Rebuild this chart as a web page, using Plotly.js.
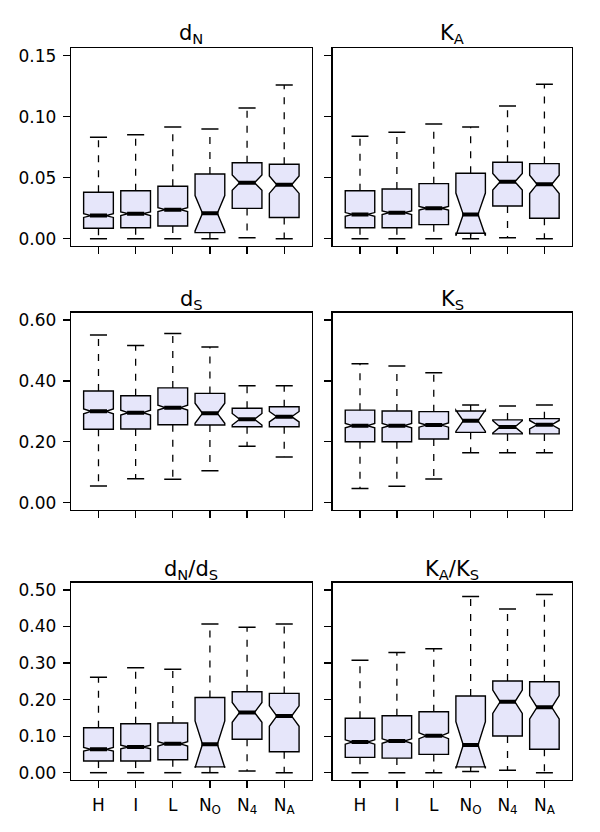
<!DOCTYPE html>
<html><head><meta charset="utf-8">
<script src="https://cdn.plot.ly/plotly-3.0.1.min.js"></script>
<style>html,body{margin:0;padding:0;background:#fff}#chart{width:600px;height:832px}</style>
</head><body><div id="chart"></div>
<script>
const categories = ['H','I','L','N<sub>O</sub>','N<sub>4</sub>','N<sub>A</sub>'];
const positions = [1,2,3,4,5,6];

// d_N
const dN_lower = [0, 0, 0, 0, 0.0008, 0];
const dN_q1    = [0.0085, 0.009, 0.0104, 0.005, 0.0248, 0.0174];
const dN_med   = [0.0189, 0.0205, 0.0238, 0.0208, 0.0459, 0.0442];
const dN_q3    = [0.038, 0.0393, 0.0429, 0.053, 0.0622, 0.061];
const dN_upper = [0.0831, 0.0852, 0.0915, 0.0899, 0.107, 0.126];
const dN_notch = [0.0015, 0.0015, 0.0015, 0.0145, 0.0063, 0.0071];
// K_A
const KA_lower = [0, 0, 0, 0, 0.0008, 0];
const KA_q1    = [0.009, 0.009, 0.0115, 0.0045, 0.0268, 0.0167];
const KA_med   = [0.0199, 0.0213, 0.0249, 0.0199, 0.0467, 0.0445];
const KA_q3    = [0.0393, 0.0407, 0.0451, 0.0536, 0.0626, 0.0615];
const KA_upper = [0.0839, 0.0872, 0.094, 0.0915, 0.1087, 0.1265];
const KA_notch = [0.0015, 0.0015, 0.0015, 0.0175, 0.0068, 0.0075];
// d_S
const dS_lower = [0.0547, 0.0788, 0.0766, 0.105, 0.185, 0.150];
const dS_q1    = [0.241, 0.242, 0.256, 0.255, 0.2496, 0.2496];
const dS_med   = [0.300, 0.2956, 0.312, 0.2936, 0.274, 0.2825];
const dS_q3    = [0.367, 0.351, 0.377, 0.359, 0.31, 0.315];
const dS_upper = [0.551, 0.516, 0.556, 0.511, 0.384, 0.384];
const dS_notch = [0.008, 0.008, 0.008, 0.033, 0.019, 0.017];
// K_S
const KS_lower = [0.047, 0.054, 0.078, 0.164, 0.164, 0.164];
const KS_q1    = [0.200, 0.200, 0.209, 0.231, 0.226, 0.226];
const KS_med   = [0.253, 0.253, 0.255, 0.269, 0.249, 0.256];
const KS_q3    = [0.304, 0.301, 0.299, 0.301, 0.272, 0.276];
const KS_upper = [0.4566, 0.449, 0.427, 0.321, 0.3175, 0.321];
const KS_notch = [0.007, 0.007, 0.007, 0.035, 0.02, 0.014];
// d_N/d_S
const dNdS_lower = [0, 0, 0, 0, 0.0046, 0];
const dNdS_q1    = [0.0319, 0.0319, 0.0356, 0.016, 0.0914, 0.0575];
const dNdS_med   = [0.0639, 0.0703, 0.079, 0.0777, 0.165, 0.155];
const dNdS_q3    = [0.123, 0.134, 0.136, 0.206, 0.2217, 0.217];
const dNdS_upper = [0.261, 0.287, 0.283, 0.407, 0.398, 0.407];
const dNdS_notch = [0.005, 0.005, 0.006, 0.064, 0.027, 0.028];
// K_A/K_S
const KAKS_lower = [0, 0, 0, 0.003, 0.0064, 0];
const KAKS_q1    = [0.042, 0.040, 0.050, 0.016, 0.1004, 0.064];
const KAKS_med   = [0.084, 0.0867, 0.101, 0.0758, 0.194, 0.179];
const KAKS_q3    = [0.149, 0.156, 0.167, 0.21, 0.251, 0.249];
const KAKS_upper = [0.308, 0.329, 0.339, 0.482, 0.448, 0.488];
const KAKS_notch = [0.006, 0.006, 0.008, 0.064, 0.032, 0.032];

const ticks1 = [0, 0.05, 0.10, 0.15];  const ticks1Text = ['0.00','0.05','0.10','0.15'];
const ticks2 = [0, 0.2, 0.4, 0.6];     const ticks2Text = ['0.00','0.20','0.40','0.60'];
const ticks3 = [0, 0.1, 0.2, 0.3, 0.4, 0.5]; const ticks3Text = ['0.00','0.10','0.20','0.30','0.40','0.50'];

const panels = [
  {title:'d<sub>N</sub>', lower:dN_lower, q1:dN_q1, med:dN_med, q3:dN_q3, upper:dN_upper, notch:dN_notch, row:0, col:0, range:[-0.006,0.156], tv:ticks1, tt:ticks1Text},
  {title:'K<sub>A</sub>', lower:KA_lower, q1:KA_q1, med:KA_med, q3:KA_q3, upper:KA_upper, notch:KA_notch, row:0, col:1, range:[-0.006,0.156], tv:ticks1, tt:ticks1Text},
  {title:'d<sub>S</sub>', lower:dS_lower, q1:dS_q1, med:dS_med, q3:dS_q3, upper:dS_upper, notch:dS_notch, row:1, col:0, range:[-0.024,0.624], tv:ticks2, tt:ticks2Text},
  {title:'K<sub>S</sub>', lower:KS_lower, q1:KS_q1, med:KS_med, q3:KS_q3, upper:KS_upper, notch:KS_notch, row:1, col:1, range:[-0.024,0.624], tv:ticks2, tt:ticks2Text},
  {title:'d<sub>N</sub>/d<sub>S</sub>', lower:dNdS_lower, q1:dNdS_q1, med:dNdS_med, q3:dNdS_q3, upper:dNdS_upper, notch:dNdS_notch, row:2, col:0, range:[-0.02,0.52], tv:ticks3, tt:ticks3Text},
  {title:'K<sub>A</sub>/K<sub>S</sub>', lower:KAKS_lower, q1:KAKS_q1, med:KAKS_med, q3:KAKS_q3, upper:KAKS_upper, notch:KAKS_notch, row:2, col:1, range:[-0.02,0.52], tv:ticks3, tt:ticks3Text}
];

const W = 600, H = 832;
const colPx = [[71, 311.7], [332.7, 571.7]];
const rowPx = [[48.3, 246], [312.7, 510], [582.7, 780]];
const titleY = [34, 300, 570];
const FONT = 'DejaVu Sans, Liberation Sans, Arial, sans-serif';
const BOXW = 0.8, CAPHALF = 0.23, MEDHALF = 0.23;

const data = [];
const layout = {
  width: W, height: H, margin: {l:0, r:0, t:0, b:0},
  paper_bgcolor: '#fff', plot_bgcolor: '#fff',
  showlegend: false, hovermode: false, annotations: []
};

panels.forEach((p, i) => {
  const n = i + 1;
  const xa = 'x' + n, ya = 'y' + n;
  const wx = [], wy = [], cx = [], cy = [], mx = [], my = [];
  positions.forEach((pos, k) => {
    wx.push(pos, pos, null, pos, pos, null);
    wy.push(p.q3[k], p.upper[k], null, p.q1[k], p.lower[k], null);
    cx.push(pos - CAPHALF, pos + CAPHALF, null, pos - CAPHALF, pos + CAPHALF, null);
    cy.push(p.upper[k], p.upper[k], null, p.lower[k], p.lower[k], null);
    mx.push(pos - MEDHALF, pos + MEDHALF, null);
    my.push(p.med[k], p.med[k], null);
  });
  data.push({type:'scatter', mode:'lines', x:wx, y:wy, xaxis:xa, yaxis:ya,
    line:{color:'black', width:1.3, dash:'7px,8px'}, hoverinfo:'skip'});
  data.push({type:'scatter', mode:'lines', x:cx, y:cy, xaxis:xa, yaxis:ya,
    line:{color:'black', width:1.5}, hoverinfo:'skip'});
  data.push({type:'box', x:positions, q1:p.q1, median:p.med, q3:p.q3,
    lowerfence:p.q1, upperfence:p.q3, notchspan:p.notch, notched:true, notchwidth:0.25,
    width:BOXW, whiskerwidth:0, boxpoints:false, xaxis:xa, yaxis:ya,
    fillcolor:'rgb(230,230,250)', line:{color:'black', width:1.4}});
  data.push({type:'scatter', mode:'lines', x:mx, y:my, xaxis:xa, yaxis:ya,
    line:{color:'black', width:4}, hoverinfo:'skip'});

  const cp = colPx[p.col], rp = rowPx[p.row];
  const axisCommon = {
    showline:true, mirror:true, linecolor:'black', linewidth:1.3,
    ticks:'outside', ticklen:7, tickwidth:1.3, tickcolor:'black',
    showgrid:false, zeroline:false, fixedrange:true,
    tickfont:{family:FONT, size:17, color:'black'}
  };
  layout['xaxis' + n] = Object.assign({}, axisCommon, {
    domain:[cp[0]/W, cp[1]/W], anchor:ya, range:[0.26, 6.74],
    tickmode:'array', tickvals:positions, ticktext:categories,
    showticklabels: p.row === 2, ticklabelstandoff: 2
  });
  layout['yaxis' + n] = Object.assign({}, axisCommon, {
    domain:[1 - rp[1]/H, 1 - rp[0]/H], anchor:xa, range:p.range,
    tickmode:'array', tickvals:p.tv, ticktext:p.tt,
    showticklabels: p.col === 0, ticklabelstandoff: 3
  });
  layout.annotations.push({
    text:p.title, xref:'paper', yref:'paper',
    x:(cp[0] + cp[1]) / 2 / W, y:1 - titleY[p.row] / H,
    xanchor:'center', yanchor:'middle', showarrow:false,
    font:{family:FONT, size:21, color:'black'}
  });
});

Plotly.newPlot('chart', data, layout, {staticPlot:true, displayModeBar:false});
</script>
</body></html>
